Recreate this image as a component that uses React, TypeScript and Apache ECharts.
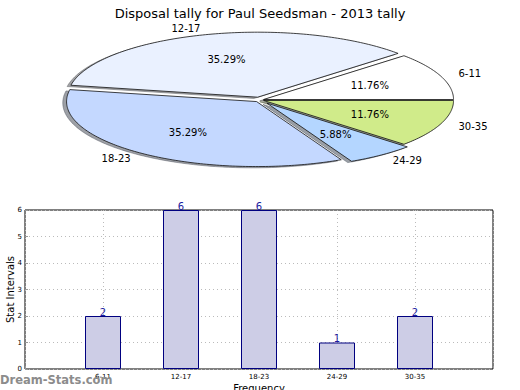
import React, { useEffect, useRef } from "react";
import * as echarts from "echarts";

const titleText = "Disposal tally for Paul Seedsman - 2013 tally";
const categories = ["6-11", "12-17", "18-23", "24-29", "30-35"];
const counts = [2, 6, 6, 1, 2];
const pieColors = ["#ffffff", "#eaf1ff", "#c4d8ff", "#b4d6ff", "#d0eb8a"];
const explode = [0.02, 0.045, 0.03, 0.06, 0.02];
const yTicks = [0, 1, 2, 3, 4, 5, 6];

const PIE = { cx: 260, cy: 100, rx: 190, ry: 65 };

function wedgeGeom(i: number) {
  const total = counts.reduce((a, b) => a + b, 0);
  let before = 0;
  for (let k = 0; k < i; k++) before += counts[k];
  const a1 = (before / total) * 360;
  const a2 = ((before + counts[i]) / total) * 360;
  const mid = ((a1 + a2) / 2) * Math.PI / 180;
  const cx = PIE.cx + explode[i] * PIE.rx * Math.cos(mid);
  const cy = PIE.cy - explode[i] * PIE.ry * Math.sin(mid);
  const pts: number[][] = [[cx, cy]];
  const steps = Math.max(4, Math.ceil(a2 - a1));
  for (let s = 0; s <= steps; s++) {
    const t = (a1 + ((a2 - a1) * s) / steps) * Math.PI / 180;
    pts.push([cx + PIE.rx * Math.cos(t), cy - PIE.ry * Math.sin(t)]);
  }
  return { cx, cy, mid, pts, pct: (counts[i] / total) * 100 };
}

function shadowColor(hex: string) {
  const r = parseInt(hex.slice(1, 3), 16) * 0.3;
  const g = parseInt(hex.slice(3, 5), 16) * 0.3;
  const b = parseInt(hex.slice(5, 7), 16) * 0.3;
  return `rgba(${Math.round(r)},${Math.round(g)},${Math.round(b)},0.5)`;
}

export default function App() {
  const ref = useRef<HTMLDivElement>(null);
  useEffect(() => {
    document.body.style.margin = "0";
    const chart = echarts.init(ref.current!, null, { renderer: "svg" });
    const font = "DejaVu Sans";
    chart.setOption({
      animation: false,
      backgroundColor: "#ffffff",
      textStyle: { fontFamily: font },
      title: {
        text: titleText,
        left: "center",
        top: 2,
        textStyle: { fontSize: 13, fontWeight: "normal", color: "#000", fontFamily: font },
      },
      grid: {
        left: 25,
        right: 27,
        top: 210,
        bottom: 21,
        show: true,
        borderColor: "#000",
        borderWidth: 1,
        containLabel: false,
        outerBoundsMode: "none",
      },
      xAxis: {
        type: "value",
        min: 0,
        max: 6,
        interval: 1,
        name: "Frequency",
        nameLocation: "middle",
        nameGap: 14,
        nameMoveOverlap: false,
        nameTextStyle: { fontSize: 10, color: "#000", fontFamily: font },
        axisLine: { show: false },
        axisTick: { show: true, inside: true, length: 3, lineStyle: { color: "#999" } },
        axisLabel: {
          fontSize: 7,
          color: "#000",
          margin: 4,
          formatter: (v: number) => categories[v - 1] ?? "",
        },
        splitLine: { show: true, lineStyle: { color: "#bbb", type: [1, 3], width: 1 } },
      },
      yAxis: {
        type: "value",
        min: 0,
        max: 6,
        interval: 1,
        name: "Stat Intervals",
        nameLocation: "middle",
        nameGap: 10,
        nameMoveOverlap: false,
        nameTextStyle: { fontSize: 10, color: "#000", fontFamily: font },
        axisLine: { show: false },
        axisTick: { show: true, inside: true, length: 3, lineStyle: { color: "#999" } },
        axisLabel: { fontSize: 7, color: "#000", margin: 3, formatter: (v: number) => (yTicks.includes(v) ? String(v) : "") },
        splitLine: { show: true, lineStyle: { color: "#bbb", type: [1, 3], width: 1 } },
      },
      graphic: [
        {
          type: "text",
          left: 0,
          top: 374,
          z: 100,
          style: { text: "Dream-Stats.com", fontSize: 11.5, fill: "#8c8c8c", fontFamily: font, fontWeight: "bold" },
        },
      ],
      series: [
        {
          type: "bar",
          data: categories.map((c, i) => [i + 1, counts[i]]),
          barWidth: 36,
          itemStyle: { color: "#cdcde6", borderColor: "#000080", borderWidth: 1 },
          label: { show: true, position: "top", distance: -1, fontSize: 10, color: "#1c1ca0", fontFamily: font },
          z: 3,
        },
        {
          type: "custom",
          coordinateSystem: "none",
          z: 1,
          silent: true,
          data: counts.map((v, i) => [v, i]),
          renderItem: (params: any) => {
            const i = params.dataIndex;
            const g = wedgeGeom(i);
            const ox = -0.02 * PIE.rx;
            const oy = 0.02 * PIE.ry;
            return {
              type: "polygon",
              shape: { points: g.pts.map((p) => [p[0] + ox, p[1] + oy]) },
              style: { fill: shadowColor(pieColors[i]), stroke: shadowColor(pieColors[i]), lineWidth: 0.8 },
            };
          },
        },
        {
          type: "custom",
          coordinateSystem: "none",
          z: 2,
          silent: true,
          data: counts.map((v, i) => [v, i]),
          renderItem: (params: any) => {
            const i = params.dataIndex;
            const g = wedgeGeom(i);
            const lx = g.cx + 1.1 * PIE.rx * Math.cos(g.mid);
            const ly = g.cy - 1.1 * PIE.ry * Math.sin(g.mid);
            const px = g.cx + 0.6 * PIE.rx * Math.cos(g.mid);
            const py = g.cy - 0.6 * PIE.ry * Math.sin(g.mid);
            return {
              type: "group",
              children: [
                {
                  type: "polygon",
                  shape: { points: g.pts },
                  style: { fill: pieColors[i], stroke: "#111", lineWidth: 0.8 },
                },
                {
                  type: "text",
                  x: lx,
                  y: ly,
                  style: {
                    text: categories[i],
                    fontSize: 10,
                    fontFamily: font,
                    fill: "#000",
                    align: Math.cos(g.mid) >= 0 ? "left" : "right",
                    verticalAlign: "middle",
                  },
                },
                {
                  type: "text",
                  x: px,
                  y: py,
                  style: {
                    text: g.pct.toFixed(2) + "%",
                    fontSize: 10,
                    fontFamily: font,
                    fill: "#000",
                    align: "center",
                    verticalAlign: "middle",
                  },
                },
              ],
            };
          },
        },
      ],
    });
    return () => chart.dispose();
  }, []);
  return <div ref={ref} style={{ width: 520, height: 390 }} />;
}
